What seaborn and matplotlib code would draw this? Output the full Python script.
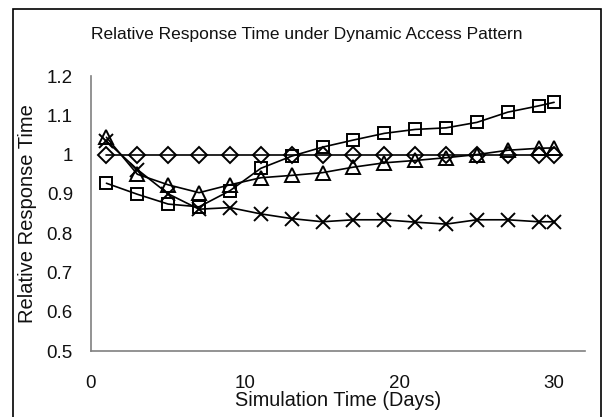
import numpy as np
import pandas as pd
import matplotlib
matplotlib.use("Agg")
import matplotlib.pyplot as plt
import seaborn as sns
from matplotlib.patches import Rectangle

# Simulation days sampled
days = [1, 3, 5, 7, 9, 11, 13, 15, 17, 19, 21, 23, 25, 27, 29, 30]

# Relative response time per scheme
diamond = [1.0, 1.0, 1.0, 1.0, 1.0, 1.0, 1.0, 1.0, 1.0, 1.0, 1.0, 1.0, 1.0, 1.0, 1.0, 1.0]
square = [0.927, 0.899, 0.874, 0.867, 0.908, 0.965, 0.996, 1.019, 1.037, 1.054,
          1.064, 1.068, 1.082, 1.108, 1.124, 1.133]
triangle = [1.044, 0.950, 0.923, 0.903, 0.923, 0.941, 0.947, 0.954, 0.968, 0.979,
            0.985, 0.992, 1.0, 1.011, 1.016, 1.017]
cross = [1.034, 0.962, 0.900, 0.861, 0.865, 0.849, 0.837, 0.829, 0.834, 0.834,
         0.828, 0.823, 0.834, 0.834, 0.829, 0.829]

series = [
    ("diamond", diamond, "D", 8),
    ("square", square, "s", 9),
    ("triangle", triangle, "^", 10),
    ("cross", cross, "x", 10),
]

sns.set_theme(style="white")
plt.rcParams["font.family"] = ["Liberation Sans", "DejaVu Sans"]

fig = plt.figure(figsize=(6.04, 4.17), dpi=100)
ax = fig.add_axes([91 / 604, 1 - 351 / 417, (585 - 91) / 604, (351 - 76) / 417])

for name, vals, mk, ms in series:
    sns.lineplot(x=days, y=vals, ax=ax, color="black", linewidth=1.2,
                 marker=mk, markersize=ms, markerfacecolor="none",
                 markeredgecolor="black", markeredgewidth=1.4)

ax.set_xlim(0, 32)
ax.set_ylim(0.5, 1.2)
ax.set_xticks([0, 10, 20, 30])
ax.set_yticks(np.arange(0.5, 1.21, 0.1))
ax.set_yticklabels(["0.5", "0.6", "0.7", "0.8", "0.9", "1", "1.1", "1.2"])
ax.tick_params(direction="in", length=5, width=1, color="#808080",
               labelsize=13.5, labelcolor="#111111")
ax.tick_params(axis="y", pad=13)
ax.tick_params(axis="x", pad=17)
for side in ["top", "right"]:
    ax.spines[side].set_visible(False)
for side in ["left", "bottom"]:
    ax.spines[side].set_color("#808080")
    ax.spines[side].set_linewidth(1.2)

ax.set_xlabel("Simulation Time (Days)", fontsize=14.3, va="center", color="#111111")
ax.xaxis.set_label_coords(0.5, (351 - 401) / 275)
ax.set_ylabel("Relative Response Time", fontsize=14.5, va="center", color="#111111")
ax.yaxis.set_label_coords((28 - 91) / 494, 0.5)
fig.text(307 / 604, 1 - 35 / 417, "Relative Response Time under Dynamic Access Pattern",
         fontsize=12.5, ha="center", va="center", color="#111111")

# Outer frame around the whole chart
fig.patches.append(Rectangle((12.5 / 604, -0.02), (601 - 12.5) / 604, 1.02 - 9 / 417,
                             transform=fig.transFigure, fill=False,
                             edgecolor="black", linewidth=1.2))

fig.savefig("out.png", dpi=100)
